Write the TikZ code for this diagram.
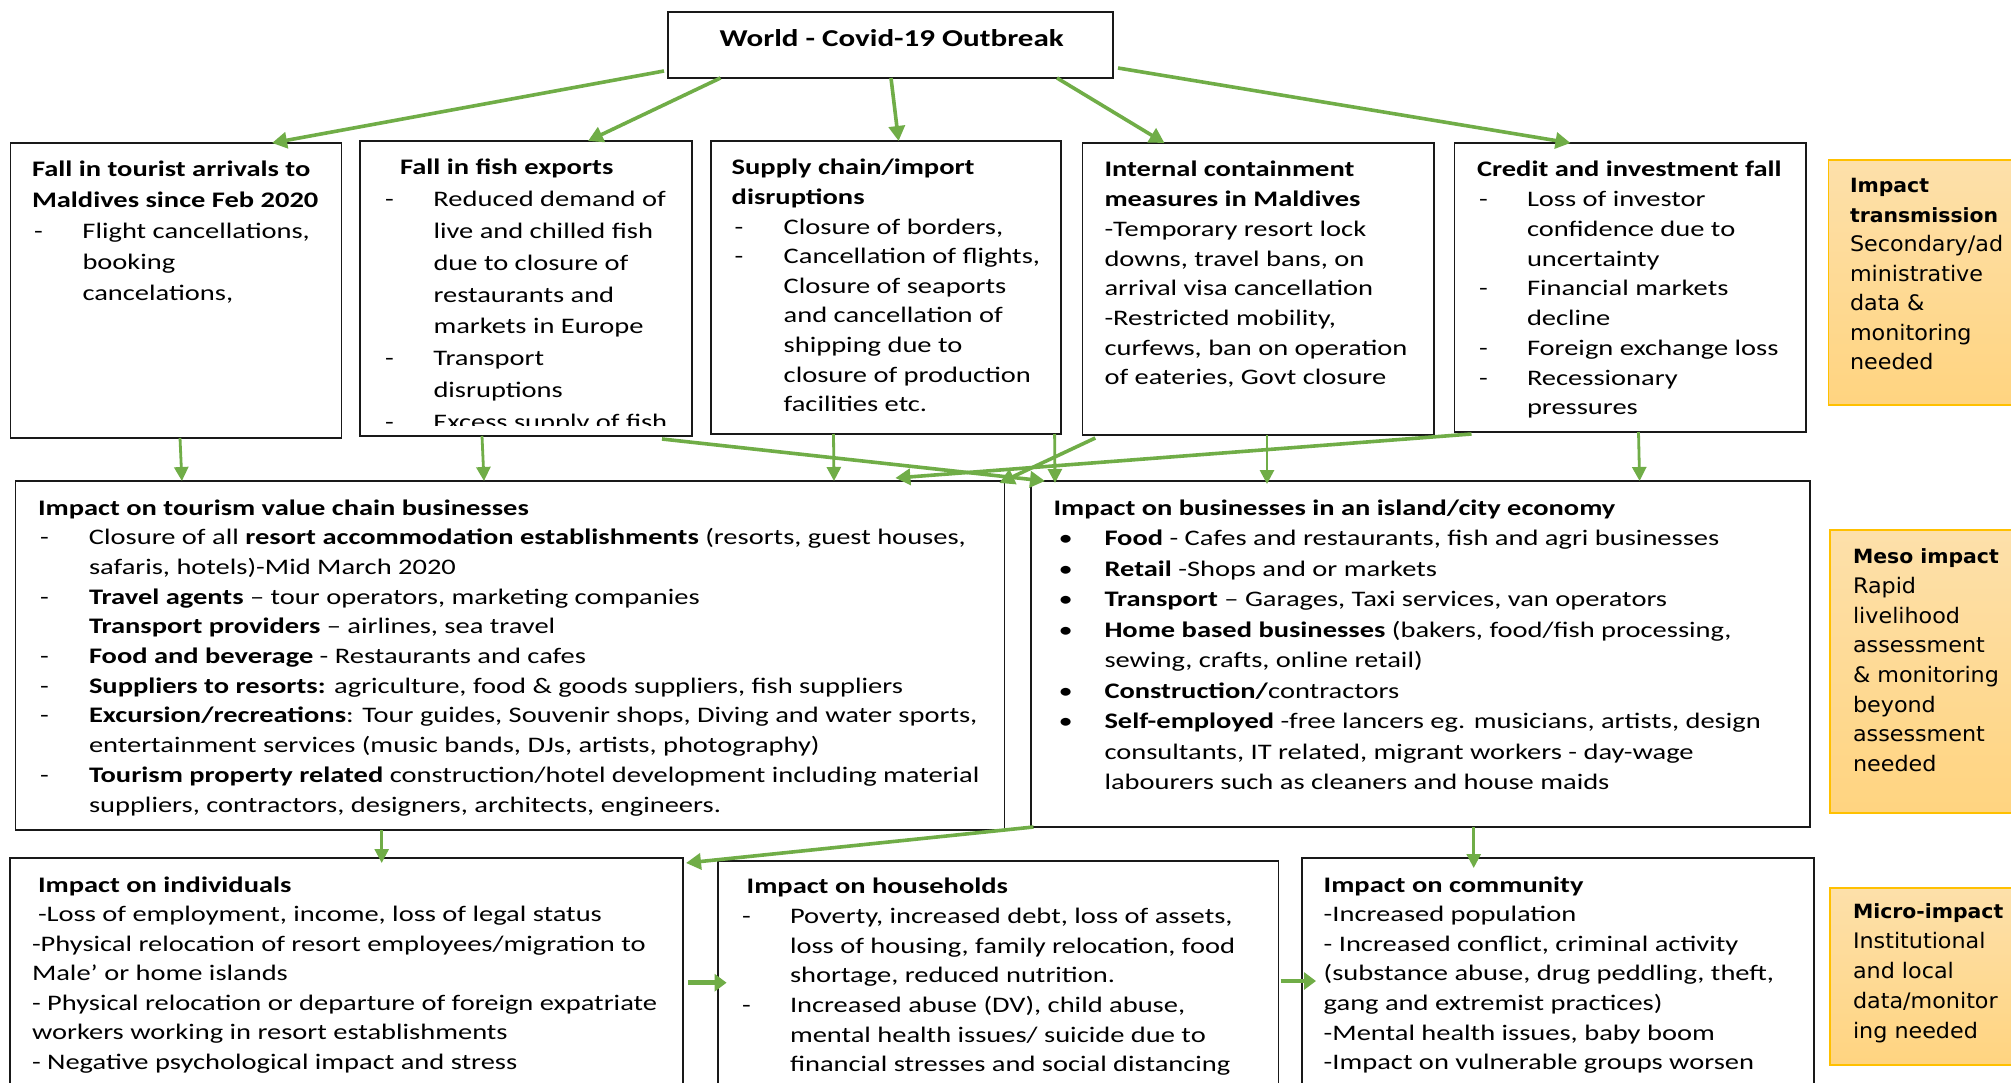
\documentclass[tikz,border=0pt]{standalone}
\usepackage{fontspec}
\setmainfont{Carlito}[FakeStretch=1.283]
\newfontfamily\ofont{DejaVu Sans}[FakeStretch=1.04]
\usetikzlibrary{arrows.meta}
\definecolor{grn}{HTML}{70AD47}
\definecolor{orTop}{HTML}{FDE0AA}
\definecolor{orBot}{HTML}{FFD480}
\definecolor{orEdge}{HTML}{FFC000}
\newlength{\dind}\newlength{\doff}
\newcommand{\dl}[1]{\makebox[\dind][l]{\hspace*{\doff}-}#1}
\newcommand{\bl}[1]{\makebox[\dind][l]{\hspace*{\doff}•}#1}
\newcommand{\cl}[1]{\hspace*{\dind}#1}
\newcommand{\tb}[5]{\parbox[t]{1200pt}{\fontsize{#1}{#2}\selectfont\setlength{\dind}{#3}\setlength{\doff}{#4}#5}}
\newcommand{\ob}[1]{{\fontsize{19.6}{29.5}\selectfont\bfseries #1}}
\newcommand{\otb}[2]{\parbox[t]{400pt}{\ofont\fontsize{21.4}{#1}\selectfont #2}}
\tikzset{
  box/.style={draw=black!90, line width=1.7pt, fill=white, inner sep=0pt, outer sep=0pt, anchor=north west},
  obox/.style={draw=orEdge, line width=1.5pt, top color=orTop, bottom color=orBot, inner sep=0pt, outer sep=0pt, anchor=north west},
  txt/.style={anchor=base west, inner sep=0pt, outer sep=0pt},
  arr/.style={draw=grn, line width=3.6pt, -{Triangle[length=15pt,width=16pt]}},
  varr/.style={draw=grn, line width=2.8pt, -{Triangle[length=14pt,width=14pt]}},
  harr/.style={draw=grn, line width=4.5pt, -{Triangle[length=12pt,width=17pt]}}
}
\begin{document}
\begin{tikzpicture}[x=1pt,y=-1pt]
\useasboundingbox (0,0) rectangle (2011,1083);
\clip (0,0) rectangle (2011,1083);
\fill[white] (0,0) rectangle (2011,1083);

% boxes
\node[box, minimum width=445pt, minimum height=66pt] (world) at (668,12) {};
\node[box, minimum width=331pt, minimum height=295pt] (tour) at (10.5,143) {};
\node[box, minimum width=332pt, minimum height=295pt] (fish) at (360,141) {};
\node[box, minimum width=350pt, minimum height=293pt] (supply) at (711,141) {};
\node[box, minimum width=351.5pt, minimum height=292pt] (internal) at (1082.5,143) {};
\node[box, minimum width=351.5pt, minimum height=289pt] (credit) at (1454.5,143) {};
\node[box, minimum width=989pt, minimum height=349pt] (tvc) at (15.4,481) {};
\node[box, minimum width=779pt, minimum height=346pt] (island) at (1031,481) {};
\node[box, minimum width=673pt, minimum height=300pt] (indiv) at (10,858) {};
\node[box, minimum width=560.5pt, minimum height=300pt] (house) at (718,861) {};
\node[box, minimum width=512pt, minimum height=300pt] (comm) at (1302,858) {};
\node[obox, minimum width=230pt, minimum height=245pt] (trans) at (1828.5,160) {};
\node[obox, minimum width=230pt, minimum height=283pt] (meso) at (1830,530) {};
\node[obox, minimum width=230pt, minimum height=177pt] (micro) at (1830,888) {};

% texts
\node[anchor=base, inner sep=0pt] (worldT) at (891.7,46.5) {\fontsize{24.2}{29}\selectfont\textbf{World - Covid-19 Outbreak}};

\node[txt] (tourT) at (32,176.5) {\tb{22.2}{30.9}{50.5pt}{2pt}{%
\textbf{Fall in tourist arrivals to}\\
\textbf{Maldives since Feb 2020}\\
\dl{Flight cancellations,}\\
\cl{booking}\\
\cl{cancelations,}}};

\begin{scope}
\clip (360,141) rectangle (692,425);
\node[txt] (fishT) at (384,175) {\tb{22.2}{31.8}{49.5pt}{1pt}{%
\hspace*{16pt}\textbf{Fall in fish exports}\\
\dl{Reduced demand of}\\
\cl{live and chilled fish}\\
\cl{due to closure of}\\
\cl{restaurants and}\\
\cl{markets in Europe}\\
\dl{Transport}\\
\cl{disruptions}\\
\dl{Excess supply of fish}}};
\end{scope}

\node[txt] (supplyT) at (731.7,175) {\tb{22.2}{29.6}{52pt}{3pt}{%
\textbf{Supply chain/import}\\
\textbf{disruptions}\\
\dl{Closure of borders,}\\
\dl{Cancellation of flights,}\\
\cl{Closure of seaports}\\
\cl{and cancellation of}\\
\cl{shipping due to}\\
\cl{closure of production}\\
\cl{facilities etc.}}};

\node[txt] (internalT) at (1104.5,177) {\tb{22.2}{29.7}{0pt}{0pt}{%
\textbf{Internal containment}\\
\textbf{measures in Maldives}\\
-Temporary resort lock\\
downs, travel bans, on\\
arrival visa cancellation\\
-Restricted mobility,\\
curfews, ban on operation\\
of eateries, Govt closure}};

\node[txt] (creditT) at (1477,177) {\tb{22.2}{29.75}{50pt}{2pt}{%
\textbf{Credit and investment fall}\\
\dl{Loss of investor}\\
\cl{confidence due to}\\
\cl{uncertainty}\\
\dl{Financial markets}\\
\cl{decline}\\
\dl{Foreign exchange loss}\\
\dl{Recessionary}\\
\cl{pressures}}};

\node[txt] (transT) at (1850,193) {\otb{29.5}{%
\ob{Impact}\\
\ob{transmission}\\
Secondary/ad\\
ministrative\\
data \&\\
monitoring\\
needed}};

\node[txt] (tvcT) at (38,515) {\tb{22.2}{29.7}{51pt}{2pt}{%
\textbf{Impact on tourism value chain businesses}\\
\dl{Closure of all \textbf{resort accommodation establishments} (resorts, guest houses,}\\
\cl{safaris, hotels)-Mid March 2020}\\
\dl{\textbf{Travel agents} – tour operators, marketing companies}\\
\cl{\textbf{Transport providers} – airlines, sea travel}\\
\dl{\textbf{Food and beverage} - Restaurants and cafes}\\
\dl{\textbf{Suppliers to resorts:} agriculture, food \& goods suppliers, fish suppliers}\\
\dl{\textbf{Excursion/recreations}: Tour guides, Souvenir shops, Diving and water sports,}\\
\cl{entertainment services (music bands, DJs, artists, photography)}\\
\dl{\textbf{Tourism property related} construction/hotel development including material}\\
\cl{suppliers, contractors, designers, architects, engineers.}}};

\node[txt] (islandT) at (1053.5,515) {\tb{22.2}{30.5}{51pt}{5pt}{%
\textbf{Impact on businesses in an island/city economy}\\
\bl{\textbf{Food} - Cafes and restaurants, fish and agri businesses}\\
\bl{\textbf{Retail} -Shops and or markets}\\
\bl{\textbf{Transport} – Garages, Taxi services, van operators}\\
\bl{\textbf{Home based businesses} (bakers, food/fish processing,}\\
\cl{sewing, crafts, online retail)}\\
\bl{\textbf{Construction/}contractors}\\
\bl{\textbf{Self-employed} -free lancers eg. musicians, artists, design}\\
\cl{consultants, IT related, migrant workers - day-wage}\\
\cl{labourers such as cleaners and house maids}}};

\node[txt] (mesoT) at (1853,563.7) {\otb{29.66}{%
\ob{Meso impact}\\
Rapid\\
livelihood\\
assessment\\
\& monitoring\\
beyond\\
assessment\\
needed}};

\node[txt] (indivT) at (32,892) {\tb{22.2}{29.55}{0pt}{0pt}{%
\hspace*{6pt}\textbf{Impact on individuals}\\
\hspace*{6pt}-Loss of employment, income, loss of legal status\\
-Physical relocation of resort employees/migration to\\
Male’ or home islands\\
- Physical relocation or departure of foreign expatriate\\
workers working in resort establishments\\
- Negative psychological impact and stress}};

\node[txt] (houseT) at (742,893.7) {\tb{22.2}{29.7}{48pt}{0pt}{%
\hspace*{4.7pt}\textbf{Impact on households}\\
\dl{Poverty, increased debt, loss of assets,}\\
\cl{loss of housing, family relocation, food}\\
\cl{shortage, reduced nutrition.}\\
\dl{Increased abuse (DV), child abuse,}\\
\cl{mental health issues/ suicide due to}\\
\cl{financial stresses and social distancing}}};

\node[txt] (commT) at (1323.7,892) {\tb{22.2}{29.6}{0pt}{0pt}{%
\textbf{Impact on community}\\
-Increased population\\
- Increased conflict, criminal activity\\
(substance abuse, drug peddling, theft,\\
gang and extremist practices)\\
-Mental health issues, baby boom\\
-Impact on vulnerable groups worsen}};

\node[txt] (microT) at (1853,918.7) {\otb{30}{%
\ob{Micro-impact}\\
Institutional\\
and local\\
data/monitor\\
ing needed}};

% arrows: world to first row
\draw[arr] ([xshift=-4pt,yshift=-26pt]world.west) -- ([xshift=261.5pt]tour.north west);
\draw[arr] ([xshift=52.5pt]world.south west) -- ([xshift=228pt]fish.north west);
\draw[arr] ([xshift=0.5pt]world.south) -- ([xshift=187.6pt]supply.north west);
\draw[arr] ([xshift=-56pt]world.south east) -- ([xshift=82pt]internal.north west);
\draw[arr] ([xshift=5pt,yshift=-23pt]world.east) -- ([xshift=116pt]credit.north west);

% first row to second row
\draw[varr] ([xshift=169.5pt]tour.south west) -- ([xshift=166.5pt]tvc.north west);
\draw[varr] ([xshift=122pt]fish.south west) -- ([xshift=468.6pt]tvc.north west);
\draw[varr] ([xshift=122.5pt]supply.south west) -- ([xshift=818.6pt]tvc.north west);
\draw[arr] ([xshift=-30pt,yshift=-3pt]fish.south east) -- ([xshift=14pt]island.north west);
\draw[varr] ([xshift=-6.4pt]supply.south east) -- ([xshift=24pt,yshift=-2pt]island.north west);
\draw[arr] ([xshift=12.8pt,yshift=-3pt]internal.south west) -- ([xshift=-5pt,yshift=-2pt]tvc.north east);
\draw[arr] ([xshift=17pt,yshift=-2pt]credit.south west) -- ([xshift=880pt,yshift=3pt]tvc.north west);
\draw[varr] ([xshift=184.5pt]internal.south west) -- ([xshift=236pt,yshift=-3pt]island.north west);
\draw[varr] ([xshift=184pt]credit.south west) -- ([xshift=608.6pt]island.north west);

% second row to third row
\draw[varr] ([xshift=366.3pt]tvc.south west) -- ([xshift=371.7pt,yshift=-5pt]indiv.north west);
\draw[arr] ([xshift=2.4pt]island.south west) -- ([xshift=3pt,yshift=-5pt]indiv.north east);
\draw[varr] ([xshift=442.7pt]island.south west) -- ([xshift=171.7pt,yshift=-10pt]comm.north west);
\draw[harr] ([xshift=5pt,yshift=-124.7pt]indiv.north east) -- ([xshift=8.6pt,yshift=-121.7pt]house.north west);
\draw[harr] ([xshift=2pt,yshift=-120pt]house.north east) -- ([xshift=14pt,yshift=-123pt]comm.north west);
\end{tikzpicture}
\end{document}
